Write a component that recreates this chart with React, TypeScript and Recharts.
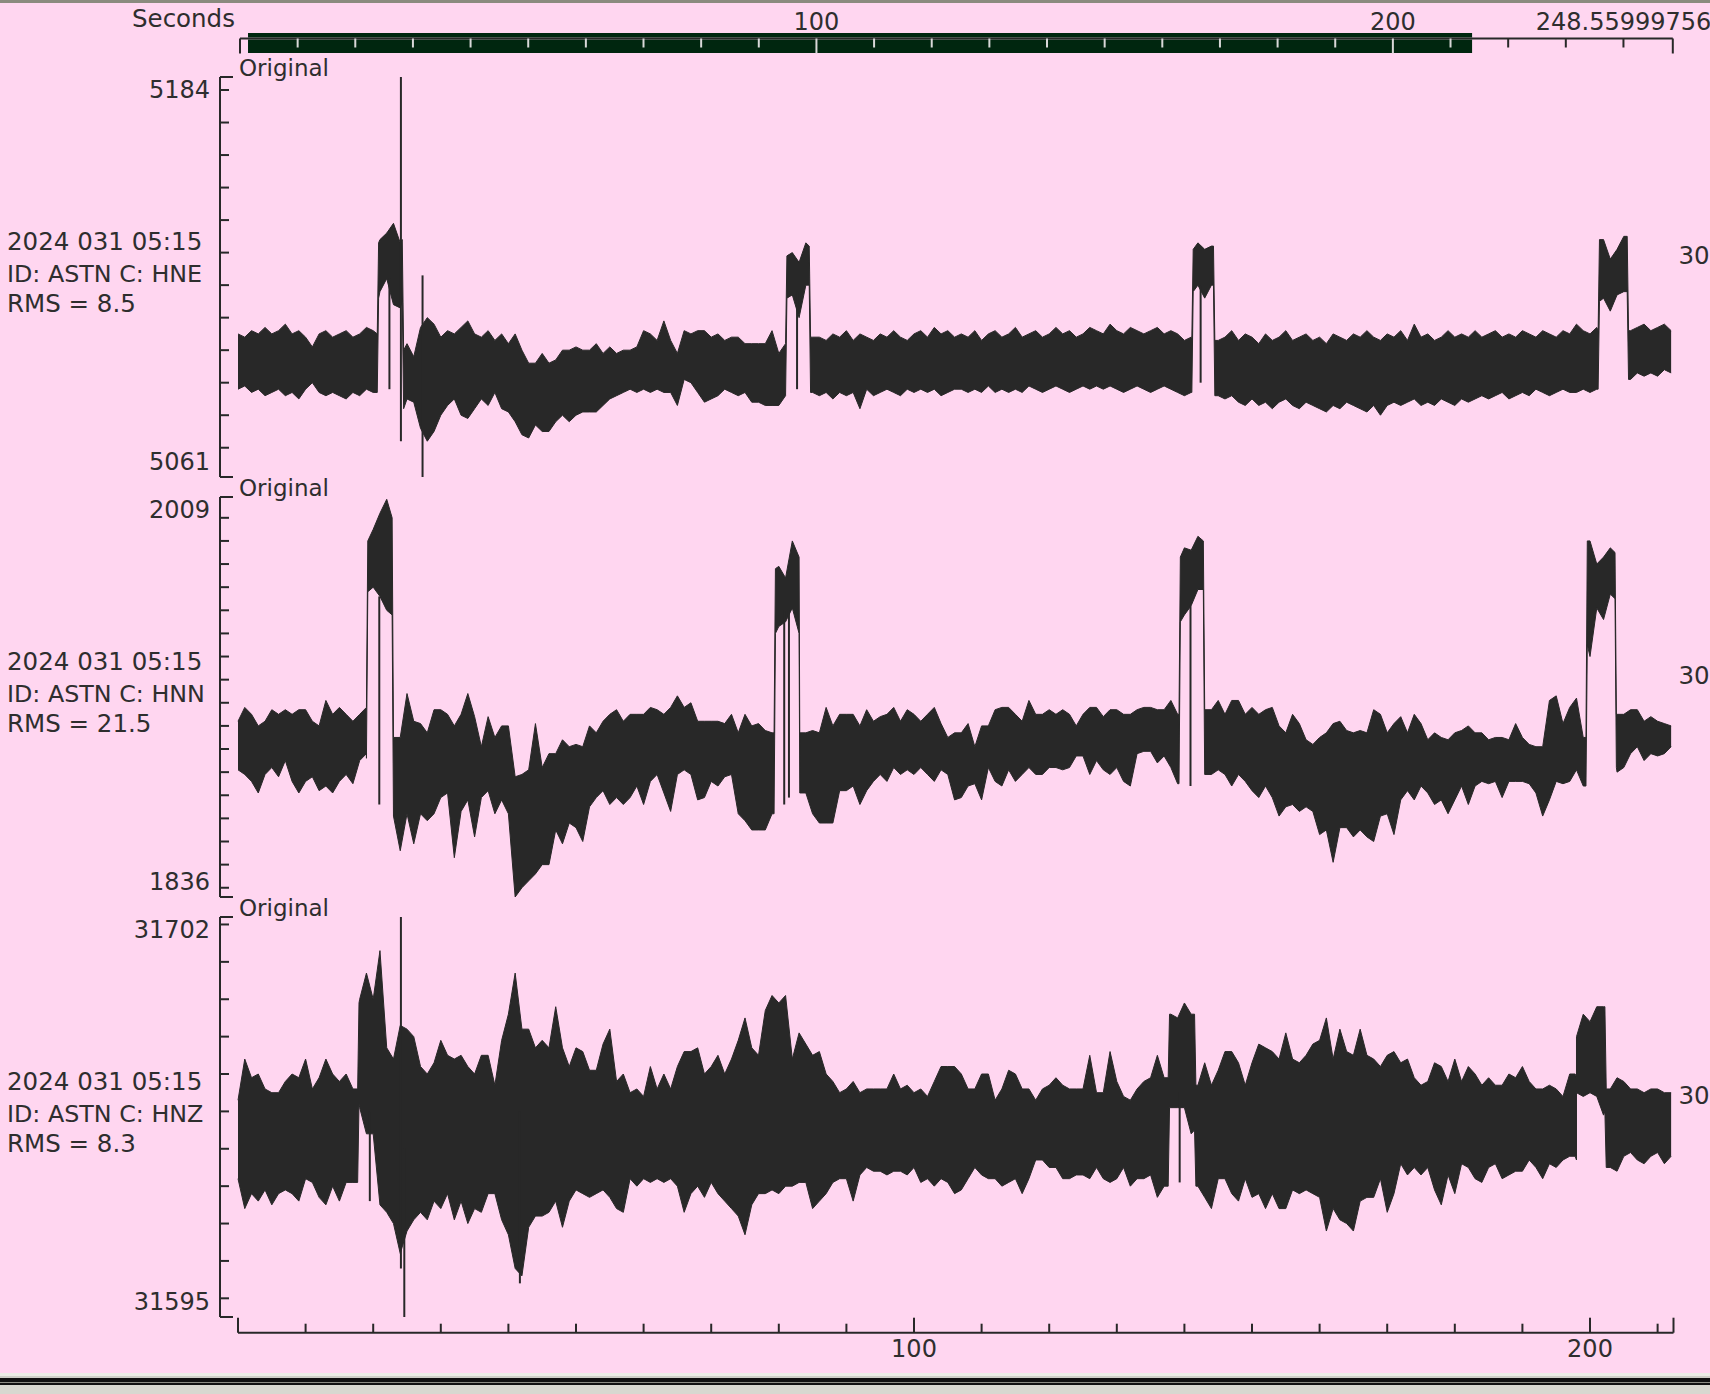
import React from 'react';
import { ComposedChart, Area, XAxis, YAxis, ReferenceLine, ReferenceArea } from 'recharts';

// ---------------- data ----------------
const RECORD_LENGTH = 248.55999756;
const WINDOW_START = 1.39;
const WINDOW_END = 213.74;
const WINDOW_LENGTH = 212.35;
const SAMPLE_STEP = 1;

const topTicks = [0, 10, 20, 30, 40, 50, 60, 70, 80, 90, 100, 110, 120, 130, 140, 150, 160, 170, 180, 190, 200, 210, 220, 230, 240, 248.55999756];
const topLabelValues = [100, 200, 248.55999756];
const topLabelTexts = ['100', '200', '248.55999756'];

const bottomTicks = [0, 10, 20, 30, 40, 50, 60, 70, 80, 90, 100, 110, 120, 130, 140, 150, 160, 170, 180, 190, 200, 210, 212.35];
const bottomLabelValues = [100, 200];
const bottomLabelTexts = ['100', '200'];

const startTime = '2024 031 05:15';
const channelIds = ['ID: ASTN C: HNE', 'ID: ASTN C: HNN', 'ID: ASTN C: HNZ'];
const rmsTexts = ['RMS = 8.5', 'RMS = 21.5', 'RMS = 8.3'];
const sideTexts = ['30', '30', '30'];
const traceTitle = 'Original';

// HNE  (1 s envelope: hi / lo)
const hneMin = 5061;
const hneMax = 5184;
const hneTicks = [5070, 5080, 5090, 5100, 5110, 5120, 5130, 5140, 5150, 5160, 5170, 5180];
const hneHi = [
  5105, 5104, 5106, 5105, 5107, 5105, 5106, 5108, 5105, 5106,
  5104, 5101, 5105, 5106, 5104, 5105, 5106, 5104, 5105, 5107,
  5106, 5134, 5136, 5139, 5133, 5102, 5098, 5107, 5110, 5108,
  5104, 5106, 5105, 5107, 5109, 5105, 5104, 5106, 5103, 5105,
  5102, 5105, 5100, 5096, 5096, 5099, 5096, 5097, 5100, 5100,
  5101, 5100, 5100, 5102, 5099, 5101, 5099, 5100, 5100, 5101,
  5106, 5105, 5103, 5109, 5103, 5099, 5106, 5105, 5106, 5106,
  5104, 5105, 5103, 5104, 5104, 5102, 5102, 5102, 5102, 5106,
  5099, 5102, 5130, 5127, 5133, 5104, 5104, 5103, 5105, 5104,
  5106, 5103, 5105, 5104, 5103, 5105, 5104, 5106, 5104, 5103,
  5105, 5106, 5104, 5107, 5105, 5106, 5104, 5105, 5104, 5106,
  5103, 5105, 5106, 5104, 5105, 5107, 5104, 5105, 5106, 5104,
  5105, 5107, 5105, 5106, 5104, 5105, 5107, 5106, 5105, 5108,
  5106, 5105, 5107, 5106, 5105, 5106, 5107, 5105, 5106, 5105,
  5103, 5104, 5133, 5131, 5132, 5103, 5104, 5106, 5103, 5105,
  5104, 5102, 5105, 5103, 5104, 5106, 5103, 5104, 5105, 5103,
  5104, 5102, 5105, 5104, 5103, 5105, 5104, 5106, 5104, 5103,
  5105, 5104, 5106, 5103, 5108, 5104, 5105, 5103, 5104, 5106,
  5104, 5105, 5104, 5106, 5104, 5105, 5106, 5104, 5105, 5104,
  5106, 5105, 5104, 5106, 5105, 5104, 5106, 5105, 5108, 5106,
  5105, 5107, 5134, 5128, 5131, 5135, 5106, 5107, 5108, 5106,
  5107, 5108, 5106,
];
const hneLo = [
  5088, 5089, 5087, 5088, 5086, 5087, 5088, 5086, 5087, 5085,
  5088, 5090, 5087, 5086, 5087, 5086, 5085, 5087, 5086, 5088,
  5087, 5118, 5122, 5114, 5113, 5085, 5084, 5076, 5072, 5075,
  5080, 5083, 5085, 5080, 5079, 5082, 5085, 5083, 5087, 5082,
  5081, 5078, 5074, 5073, 5077, 5075, 5075, 5078, 5080, 5078,
  5080, 5081, 5081, 5081, 5083, 5085, 5086, 5087, 5088, 5087,
  5088, 5087, 5088, 5087, 5087, 5083, 5091, 5090, 5087, 5084,
  5085, 5086, 5088, 5087, 5086, 5087, 5084, 5084, 5083, 5083,
  5083, 5086, 5117, 5110, 5120, 5087, 5086, 5087, 5085, 5087,
  5086, 5087, 5082, 5088, 5086, 5087, 5088, 5087, 5086, 5088,
  5087, 5088, 5087, 5088, 5086, 5087, 5088, 5088, 5087, 5088,
  5087, 5089, 5087, 5088, 5087, 5088, 5087, 5089, 5088, 5087,
  5088, 5089, 5088, 5087, 5088, 5089, 5088, 5089, 5088, 5089,
  5088, 5087, 5088, 5089, 5088, 5087, 5088, 5089, 5088, 5087,
  5086, 5087, 5120, 5116, 5120, 5086, 5085, 5086, 5084, 5083,
  5085, 5083, 5084, 5082, 5084, 5085, 5083, 5082, 5084, 5083,
  5082, 5081, 5083, 5082, 5084, 5083, 5082, 5081, 5083, 5080,
  5083, 5084, 5083, 5084, 5085, 5083, 5084, 5083, 5085, 5084,
  5083, 5085, 5084, 5085, 5086, 5085, 5086, 5087, 5085, 5086,
  5087, 5086, 5088, 5087, 5086, 5087, 5088, 5087, 5087, 5088,
  5087, 5088, 5116, 5112, 5117, 5118, 5091, 5093, 5092, 5093,
  5092, 5094, 5093,
];
// samples read at the edges of the step-like bursts
const hneEdges = [
  { t: 20.6, lo: 5087, hi: 5105 }, { t: 20.8, lo: 5116, hi: 5133 },
  { t: 24.3, lo: 5115, hi: 5134 }, { t: 24.5, lo: 5082, hi: 5100 },
  { t: 81.0, lo: 5086, hi: 5102 }, { t: 81.2, lo: 5116, hi: 5129 },
  { t: 84.5, lo: 5120, hi: 5132 }, { t: 84.7, lo: 5087, hi: 5104 },
  { t: 141.1, lo: 5087, hi: 5104 }, { t: 141.3, lo: 5118, hi: 5131 },
  { t: 144.3, lo: 5120, hi: 5132 }, { t: 144.5, lo: 5086, hi: 5103 },
  { t: 201.2, lo: 5088, hi: 5106 }, { t: 201.4, lo: 5115, hi: 5134 },
  { t: 205.5, lo: 5118, hi: 5135 }, { t: 205.7, lo: 5091, hi: 5106 },
];
const hneSpikes = [
  { t: 22.4, lo: 5088, hi: 5122 },
  { t: 24.1, lo: 5072, hi: 5184 },
  { t: 27.3, lo: 5061, hi: 5123 },
  { t: 82.7, lo: 5088, hi: 5118 },
  { t: 142.4, lo: 5090, hi: 5120 },
];

// HNN
const hnnMin = 1836;
const hnnMax = 2009;
const hnnTicks = [1840, 1850, 1860, 1870, 1880, 1890, 1900, 1910, 1920, 1930, 1940, 1950, 1960, 1970, 1980, 1990, 2000];
const hnnHi = [
  1912, 1918, 1915, 1910, 1912, 1917, 1915, 1917, 1915, 1917,
  1917, 1912, 1910, 1921, 1915, 1918, 1915, 1912, 1915, 1918,
  1995, 2002, 2008, 1905, 1905, 1924, 1912, 1911, 1907, 1917,
  1917, 1915, 1910, 1915, 1924, 1914, 1901, 1914, 1905, 1910,
  1910, 1888, 1889, 1891, 1911, 1892, 1898, 1898, 1904, 1901,
  1902, 1901, 1910, 1907, 1912, 1915, 1917, 1912, 1915, 1915,
  1915, 1918, 1917, 1915, 1918, 1923, 1918, 1920, 1912, 1912,
  1912, 1912, 1911, 1915, 1907, 1915, 1910, 1911, 1908, 1907,
  1979, 1974, 1990, 1983, 1907, 1908, 1907, 1918, 1910, 1915,
  1915, 1915, 1910, 1917, 1912, 1914, 1915, 1918, 1912, 1917,
  1915, 1912, 1915, 1918, 1911, 1905, 1907, 1907, 1911, 1901,
  1910, 1910, 1917, 1918, 1918, 1915, 1912, 1921, 1915, 1915,
  1917, 1915, 1917, 1915, 1910, 1915, 1918, 1918, 1914, 1917,
  1917, 1915, 1915, 1917, 1918, 1918, 1917, 1917, 1921, 1915,
  1987, 1986, 1992, 1917, 1917, 1921, 1915, 1921, 1921, 1915,
  1918, 1915, 1917, 1918, 1910, 1907, 1915, 1911, 1904, 1902,
  1905, 1907, 1911, 1912, 1908, 1907, 1908, 1907, 1917, 1915,
  1907, 1911, 1914, 1907, 1915, 1911, 1904, 1907, 1905, 1904,
  1907, 1908, 1910, 1907, 1907, 1904, 1905, 1905, 1904, 1911,
  1905, 1902, 1901, 1901, 1921, 1923, 1911, 1918, 1922, 1905,
  1990, 1980, 1983, 1987, 1915, 1915, 1917, 1917, 1912, 1914,
  1912, 1911, 1910,
];
const hnnLo = [
  1891, 1889, 1886, 1881, 1889, 1892, 1888, 1895, 1886, 1881,
  1886, 1888, 1882, 1884, 1881, 1886, 1889, 1885, 1895, 1898,
  1970, 1966, 1960, 1871, 1856, 1872, 1859, 1872, 1869, 1872,
  1879, 1881, 1853, 1873, 1878, 1862, 1879, 1882, 1872, 1878,
  1872, 1836, 1840, 1843, 1846, 1850, 1850, 1865, 1859, 1868,
  1866, 1860, 1875, 1879, 1882, 1876, 1879, 1876, 1879, 1884,
  1876, 1886, 1889, 1881, 1873, 1889, 1891, 1889, 1878, 1879,
  1886, 1884, 1888, 1889, 1872, 1869, 1865, 1865, 1865, 1872,
  1953, 1955, 1961, 1950, 1881, 1872, 1868, 1868, 1868, 1882,
  1882, 1884, 1876, 1882, 1886, 1889, 1886, 1892, 1889, 1891,
  1889, 1892, 1889, 1886, 1891, 1889, 1878, 1879, 1884, 1885,
  1878, 1892, 1886, 1884, 1891, 1886, 1889, 1892, 1889, 1889,
  1892, 1892, 1891, 1892, 1897, 1897, 1889, 1895, 1891, 1889,
  1892, 1886, 1884, 1898, 1899, 1899, 1894, 1897, 1892, 1885,
  1958, 1962, 1969, 1889, 1889, 1891, 1889, 1884, 1889, 1886,
  1882, 1879, 1884, 1879, 1871, 1875, 1876, 1873, 1875, 1873,
  1863, 1865, 1851, 1866, 1866, 1862, 1865, 1862, 1860, 1871,
  1872, 1863, 1878, 1882, 1878, 1884, 1881, 1876, 1878, 1872,
  1878, 1884, 1876, 1884, 1886, 1885, 1886, 1879, 1886, 1886,
  1886, 1885, 1881, 1871, 1878, 1886, 1885, 1886, 1891, 1884,
  1940, 1961, 1956, 1967, 1890, 1892, 1898, 1901, 1895, 1898,
  1897, 1898, 1901,
];
const hnnEdges = [
  { t: 19.0, lo: 1896, hi: 1918 }, { t: 19.2, lo: 1968, hi: 1990 },
  { t: 22.8, lo: 1958, hi: 2000 },
  { t: 79.3, lo: 1872, hi: 1907 }, { t: 79.5, lo: 1950, hi: 1978 },
  { t: 83.1, lo: 1881, hi: 1907 },
  { t: 139.2, lo: 1885, hi: 1915 }, { t: 139.4, lo: 1955, hi: 1983 },
  { t: 142.8, lo: 1969, hi: 1990 },
  { t: 199.4, lo: 1884, hi: 1905 }, { t: 199.6, lo: 1945, hi: 1990 },
  { t: 203.7, lo: 1965, hi: 1985 }, { t: 203.9, lo: 1892, hi: 1915 },
];
const hnnSpikes = [
  { t: 20.9, lo: 1876, hi: 1966 },
  { t: 80.8, lo: 1876, hi: 1960 },
  { t: 81.5, lo: 1879, hi: 1960 },
  { t: 140.9, lo: 1884, hi: 1962 },
];

// HNZ
const hnzMin = 31595;
const hnzMax = 31702;
const hnzTicks = [31600, 31610, 31620, 31630, 31640, 31650, 31660, 31670, 31680, 31690, 31700];
const hnzHi = [
  31653, 31664, 31659, 31660, 31656, 31655, 31655, 31658, 31660, 31659,
  31664, 31656, 31659, 31664, 31660, 31658, 31660, 31656, 31680, 31687,
  31680, 31693, 31667, 31664, 31673, 31672, 31670, 31662, 31660, 31663,
  31669, 31665, 31664, 31665, 31662, 31660, 31665, 31665, 31657, 31669,
  31676, 31687, 31672, 31672, 31667, 31669, 31667, 31678, 31667, 31662,
  31667, 31666, 31661, 31661, 31668, 31672, 31658, 31660, 31655, 31656,
  31654, 31662, 31656, 31660, 31656, 31662, 31666, 31666, 31667, 31660,
  31662, 31665, 31660, 31664, 31669, 31675, 31667, 31665, 31677, 31681,
  31679, 31681, 31664, 31671, 31668, 31665, 31666, 31660, 31658, 31655,
  31656, 31658, 31655, 31656, 31656, 31656, 31656, 31660, 31656, 31657,
  31655, 31656, 31654, 31658, 31662, 31662, 31662, 31660, 31656, 31656,
  31660, 31660, 31653, 31656, 31661, 31660, 31656, 31656, 31653, 31656,
  31657, 31659, 31657, 31656, 31656, 31656, 31665, 31655, 31655, 31666,
  31658, 31654, 31653, 31656, 31658, 31659, 31665, 31659, 31676, 31675,
  31679, 31676, 31657, 31663, 31657, 31661, 31666, 31666, 31663, 31657,
  31663, 31668, 31667, 31666, 31664, 31671, 31664, 31663, 31665, 31668,
  31669, 31675, 31664, 31672, 31666, 31665, 31672, 31665, 31664, 31662,
  31665, 31666, 31663, 31664, 31659, 31657, 31658, 31663, 31662, 31658,
  31664, 31658, 31662, 31660, 31657, 31659, 31657, 31657, 31660, 31659,
  31662, 31658, 31656, 31656, 31657, 31656, 31654, 31660, 31659, 31676,
  31674, 31678, 31678, 31656, 31659, 31658, 31656, 31656, 31655, 31656,
  31656, 31655, 31655,
];
const hnzLo = [
  31632, 31624, 31628, 31626, 31629, 31625, 31628, 31629, 31628, 31626,
  31632, 31631, 31627, 31625, 31630, 31626, 31631, 31631, 31651, 31644,
  31644, 31625, 31623, 31620, 31612, 31618, 31621, 31623, 31621, 31626,
  31624, 31628, 31621, 31626, 31620, 31624, 31623, 31628, 31628, 31621,
  31617, 31608, 31606, 31619, 31622, 31622, 31623, 31626, 31619, 31626,
  31629, 31628, 31627, 31628, 31629, 31627, 31624, 31623, 31632, 31630,
  31632, 31631, 31632, 31631, 31632, 31630, 31623, 31628, 31630, 31627,
  31631, 31628, 31626, 31624, 31622, 31617, 31625, 31628, 31628, 31629,
  31628, 31630, 31630, 31631, 31631, 31624, 31626, 31628, 31631, 31632,
  31632, 31626, 31633, 31635, 31634, 31634, 31633, 31634, 31634, 31633,
  31635, 31631, 31632, 31630, 31632, 31631, 31628, 31629, 31632, 31635,
  31633, 31632, 31632, 31630, 31631, 31632, 31628, 31632, 31637, 31637,
  31635, 31635, 31632, 31632, 31633, 31633, 31632, 31635, 31632, 31631,
  31632, 31635, 31630, 31632, 31632, 31633, 31627, 31630, 31651, 31651,
  31651, 31644, 31630, 31627, 31624, 31632, 31632, 31628, 31626, 31632,
  31627, 31628, 31624, 31628, 31624, 31624, 31629, 31628, 31629, 31628,
  31627, 31618, 31624, 31621, 31620, 31618, 31626, 31627, 31627, 31632,
  31623, 31628, 31636, 31633, 31635, 31633, 31635, 31629, 31625, 31633,
  31628, 31636, 31635, 31632, 31631, 31635, 31636, 31632, 31633, 31634,
  31634, 31637, 31635, 31632, 31636, 31635, 31637, 31638, 31637, 31654,
  31655, 31654, 31649, 31635, 31634, 31638, 31639, 31637, 31636, 31638,
  31639, 31636, 31638,
];
const hnzEdges = [
  { t: 17.7, lo: 31631, hi: 31656 }, { t: 17.9, lo: 31652, hi: 31679 },
  { t: 137.6, lo: 31630, hi: 31659 }, { t: 137.8, lo: 31651, hi: 31676 },
  { t: 141.5, lo: 31645, hi: 31676 }, { t: 141.7, lo: 31630, hi: 31657 },
  { t: 197.8, lo: 31638, hi: 31660 }, { t: 198.0, lo: 31655, hi: 31670 },
  { t: 202.2, lo: 31650, hi: 31678 }, { t: 202.4, lo: 31635, hi: 31656 },
];
const hnzSpikes = [
  { t: 19.5, lo: 31626, hi: 31650 },
  { t: 24.1, lo: 31608, hi: 31702 },
  { t: 24.6, lo: 31595, hi: 31640 },
  { t: 41.7, lo: 31604, hi: 31650 },
  { t: 139.3, lo: 31631, hi: 31655 },
];

// ---------------- style / layout ----------------
const FONT = "'DejaVu Sans', Verdana, sans-serif";
const INK = '#282828';
const TEXT = '#2e2e2e';
const PINK = '#ffd6f0';
const GREEN = '#00260f';
const LIGHT = '#d8d8d8';

const PAGE_W = 1710;
const PAGE_H = 1394;
const PLOT_LEFT = 220; // y-axis line
const TIME_LEFT = 238; // t = 0
const PLOT_RIGHT = 1673.5;
const PANEL_H = 400;
const PANEL_TOPS = [76.7, 496.7, 916.7];
const PX_PER_SEC = (PLOT_RIGHT - TIME_LEFT) / WINDOW_LENGTH;
const X_MIN = -(TIME_LEFT - PLOT_LEFT) / PX_PER_SEC;

const TOP_LEFT = 240;
const TOP_RIGHT = 1672.8;

function YTick(props: any) {
  const { x, y, payload, min, max } = props;
  const v = payload.value;
  const end = v === min || v === max;
  return (
    <g>
      <line x1={x} x2={x + (end ? 13 : 9)} y1={y} y2={y} stroke={INK} strokeWidth={2} />
      {end && (
        <text x={x - 10} y={v === max ? y + 21.3 : y - 6.7} textAnchor="end" fontFamily={FONT} fontSize={24} fill={TEXT}>
          {String(v)}
        </text>
      )}
    </g>
  );
}

function TopTick(props: any) {
  const { x, y, payload } = props;
  const v = payload.value;
  const inside = v > WINDOW_START && v < WINDOW_END;
  const major = v % 100 === 0 || v === RECORD_LENGTH;
  const idx = topLabelValues.indexOf(v);
  const isEnd = v === RECORD_LENGTH;
  return (
    <g>
      <line x1={x} x2={x} y1={y} y2={y + (major ? 15 : 9)} stroke={inside ? LIGHT : INK} strokeWidth={2} />
      {idx >= 0 && (
        <text x={isEnd ? x - 137 : x} y={y - 8.5} textAnchor={isEnd ? 'start' : 'middle'} fontFamily={FONT} fontSize={24} fill={TEXT}>
          {topLabelTexts[idx]}
        </text>
      )}
    </g>
  );
}

function BottomTick(props: any) {
  const { x, y, payload } = props;
  const v = payload.value;
  const major = v % 100 === 0 || v === WINDOW_LENGTH;
  const idx = bottomLabelValues.indexOf(v);
  return (
    <g>
      <line x1={x} x2={x} y1={y} y2={y - (major ? 15 : 9)} stroke={INK} strokeWidth={2} />
      {idx >= 0 && (
        <text x={x} y={y + 24} textAnchor="middle" fontFamily={FONT} fontSize={24} fill={TEXT}>
          {bottomLabelTexts[idx]}
        </text>
      )}
    </g>
  );
}

type Sample = { t: number; lo: number; hi: number };

function Panel({ top, lo, hi, edges, min, max, ticks, spikes }: { top: number; lo: number[]; hi: number[]; edges: Sample[]; min: number; max: number; ticks: number[]; spikes: Sample[] }) {
  const rows = hi
    .map((h, i) => ({ t: i * SAMPLE_STEP, range: [lo[i], h] }))
    .concat(edges.map((e) => ({ t: e.t, range: [e.lo, e.hi] })))
    .sort((a, b) => a.t - b.t);
  const PAD = 30;
  return (
    <div style={{ position: 'absolute', left: 0, top: top - PAD }}>
      <ComposedChart
        width={PAGE_W}
        height={PANEL_H + 2 * PAD}
        data={rows}
        margin={{ top: PAD, bottom: PAD, left: 0, right: PAGE_W - PLOT_RIGHT }}
      >
        <XAxis type="number" dataKey="t" domain={[X_MIN, WINDOW_LENGTH]} hide allowDataOverflow />
        <YAxis
          type="number"
          domain={[min, max]}
          ticks={[min, ...ticks, max]}
          interval={0}
          width={PLOT_LEFT}
          allowDataOverflow
          tickLine={false}
          tickSize={0}
          tickMargin={0}
          axisLine={{ stroke: INK, strokeWidth: 2 }}
          tick={(p: any) => <YTick {...p} min={min} max={max} />}
        />
        <Area
          type="linear"
          dataKey="range"
          stroke={INK}
          strokeWidth={1}
          fill={INK}
          fillOpacity={1}
          dot={false}
          activeDot={false}
          isAnimationActive={false}
        />
        {spikes.map((s, i) => (
          <ReferenceLine
            key={i}
            segment={[{ x: s.t, y: s.lo }, { x: s.t, y: s.hi }]}
            stroke={INK}
            strokeWidth={2}
            ifOverflow="visible"
          />
        ))}
      </ComposedChart>
    </div>
  );
}

function TopScale() {
  const data = [{ t: 0 }, { t: RECORD_LENGTH }];
  return (
    <div style={{ position: 'absolute', left: 0, top: 0 }}>
      <ComposedChart width={PAGE_W} height={60} data={data} margin={{ top: 0, left: TOP_LEFT, right: PAGE_W - TOP_RIGHT, bottom: 7 }}>
        <YAxis type="number" domain={[0, 1]} hide allowDataOverflow />
        <ReferenceArea x1={WINDOW_START} x2={WINDOW_END} y1={0} y2={1.38} fill={GREEN} fillOpacity={1} stroke="none" ifOverflow="visible" />
        <ReferenceLine segment={[{ x: WINDOW_START, y: 1 }, { x: WINDOW_END, y: 1 }]} stroke={LIGHT} strokeWidth={2} ifOverflow="visible" />
        <XAxis
          type="number"
          dataKey="t"
          orientation="top"
          domain={[0, RECORD_LENGTH]}
          ticks={topTicks}
          interval={0}
          height={38.5}
          allowDataOverflow
          tickLine={false}
          tickSize={0}
          tickMargin={0}
          axisLine={{ stroke: INK, strokeWidth: 2 }}
          tick={(p: any) => <TopTick {...p} />}
        />
      </ComposedChart>
    </div>
  );
}

function BottomScale() {
  const data = [{ t: 0 }, { t: WINDOW_LENGTH }];
  return (
    <div style={{ position: 'absolute', left: 0, top: 1300 }}>
      <ComposedChart width={PAGE_W} height={70} data={data} margin={{ top: 0, left: TIME_LEFT, right: PAGE_W - PLOT_RIGHT, bottom: 0 }}>
        <YAxis type="number" domain={[0, 1]} hide />
        <XAxis
          type="number"
          dataKey="t"
          orientation="bottom"
          domain={[0, WINDOW_LENGTH]}
          ticks={bottomTicks}
          interval={0}
          height={37.3}
          allowDataOverflow
          tickLine={false}
          tickSize={0}
          tickMargin={0}
          axisLine={{ stroke: INK, strokeWidth: 2 }}
          tick={(p: any) => <BottomTick {...p} />}
        />
      </ComposedChart>
    </div>
  );
}

export default function App() {
  const panels = [
    { lo: hneLo, hi: hneHi, edges: hneEdges, min: hneMin, max: hneMax, ticks: hneTicks, spikes: hneSpikes },
    { lo: hnnLo, hi: hnnHi, edges: hnnEdges, min: hnnMin, max: hnnMax, ticks: hnnTicks, spikes: hnnSpikes },
    { lo: hnzLo, hi: hnzHi, edges: hnzEdges, min: hnzMin, max: hnzMax, ticks: hnzTicks, spikes: hnzSpikes },
  ];
  return (
    <div style={{ position: 'absolute', left: 0, top: 0, width: PAGE_W, height: PAGE_H, background: PINK, overflow: 'hidden' }}>
      <div style={{ position: 'absolute', left: 0, top: 0, width: PAGE_W, height: 3, background: '#8a8a7e' }} />
      <TopScale />
      {panels.map((p, i) => (
        <Panel key={i} top={PANEL_TOPS[i]} {...p} />
      ))}
      <BottomScale />
      <svg width={PAGE_W} height={PAGE_H} style={{ position: 'absolute', left: 0, top: 0, pointerEvents: 'none' }}>
        <text x={132} y={26.7} fontFamily={FONT} fontSize={24.5} fill={TEXT}>Seconds</text>
        {PANEL_TOPS.map((top, i) => (
          <g key={i}>
            <text x={239} y={top - 0.5} fontFamily={FONT} fontSize={23} fill={TEXT}>{traceTitle}</text>
            <text x={7} y={top + 173.3} fontFamily={FONT} fontSize={24.5} fill={TEXT}>{startTime}</text>
            <text x={7} y={top + 204.8} fontFamily={FONT} fontSize={23.8} fill={TEXT}>{channelIds[i]}</text>
            <text x={7} y={top + 235.3} fontFamily={FONT} fontSize={24.5} fill={TEXT}>{rmsTexts[i]}</text>
            <text x={1678.5} y={top + 187.3} fontFamily={FONT} fontSize={24.5} fill={TEXT}>{sideTexts[i]}</text>
          </g>
        ))}
      </svg>
      <div style={{ position: 'absolute', left: 0, top: 1373, width: PAGE_W, height: 3, background: '#ececE6' }} />
      <div style={{ position: 'absolute', left: 0, top: 1376, width: PAGE_W, height: 2, background: '#cfcfc8' }} />
      <div style={{ position: 'absolute', left: 0, top: 1378, width: PAGE_W, height: 3.7, background: '#111111' }} />
      <div style={{ position: 'absolute', left: 0, top: 1381.7, width: PAGE_W, height: 1.6, background: '#8c8c84' }} />
      <div style={{ position: 'absolute', left: 0, top: 1383.3, width: PAGE_W, height: 2, background: '#111111' }} />
      <div style={{ position: 'absolute', left: 0, top: 1385.3, width: PAGE_W, height: 9, background: '#d8d8d0' }} />
    </div>
  );
}
